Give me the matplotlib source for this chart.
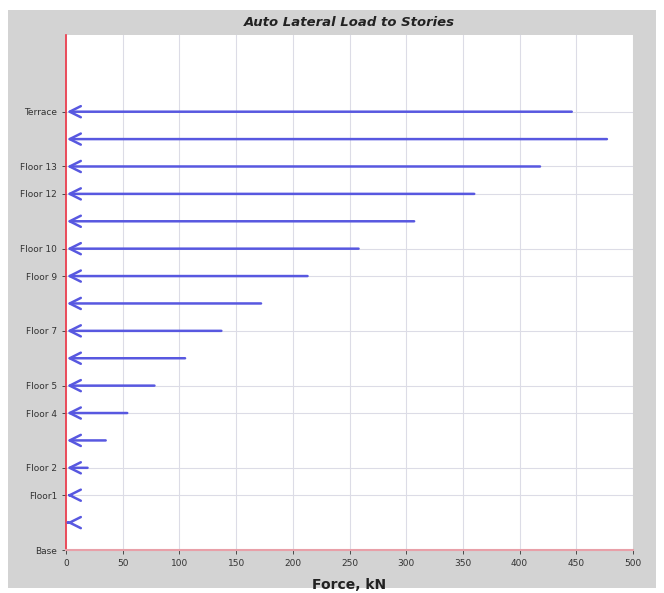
import numpy as np
import matplotlib.pyplot as plt
from matplotlib.patches import Rectangle

# story levels (0 = Base) and the label shown for each
levels = np.arange(17)
story_labels = ['Base', '', 'Floor1', 'Floor 2', '', 'Floor 4', 'Floor 5', '',
                'Floor 7', '', 'Floor 9', 'Floor 10', '', 'Floor 12', 'Floor 13',
                '', 'Terrace']
# lateral load on each level, kN
forces = [0, 2, 5, 19, 35, 54, 78, 105, 137, 172, 213, 258, 307, 360, 418, 477, 446]

fig = plt.figure(figsize=(6.64, 5.93), dpi=100, facecolor='white')
fig.patches.append(Rectangle((8/664, 5/593), 648/664, 578/593,
                             transform=fig.transFigure, facecolor='#d3d3d3',
                             edgecolor='none', zorder=-10))
ax = fig.add_axes([66/664, 1-550/593, 567/664, 515/593])
ax.set_facecolor('white')

for y, f in zip(levels, forces):
    if y == 0:
        continue
    ax.annotate('', xy=(0.8, y), xytext=(max(f, 1.0), y),
                arrowprops=dict(arrowstyle='->', color='#5858e0', lw=1.8,
                                mutation_scale=20, shrinkA=0, shrinkB=0))

ax.set_xlim(0, 500)
ax.set_ylim(0, 18.8)
ax.set_xticks(np.arange(0, 501, 50))
lab_idx = [i for i, s in enumerate(story_labels) if s]
ax.set_yticks(lab_idx)
ax.set_yticklabels([story_labels[i] for i in lab_idx])
ax.tick_params(labelsize=6.5, colors='#333333', length=3, width=0.6)
ax.grid(True, color='#dcdce6', lw=0.8)
ax.set_axisbelow(True)

for s in ['top', 'right']:
    ax.spines[s].set_visible(False)
ax.spines['left'].set_color('#ee3344')
ax.spines['left'].set_linewidth(1.2)
ax.spines['bottom'].set_color('#e8a0a8')
ax.spines['bottom'].set_linewidth(1.5)

fig.text(349.5/664, 1-22/593, 'Auto Lateral Load to Stories', ha='center', va='center',
         fontsize=9.5, fontweight='bold', style='italic', color='#222222')
ax.set_xlabel('Force, kN', fontsize=10, fontweight='bold', color='#222222', labelpad=7)

plt.savefig('out.png', dpi=100, facecolor=fig.get_facecolor())
